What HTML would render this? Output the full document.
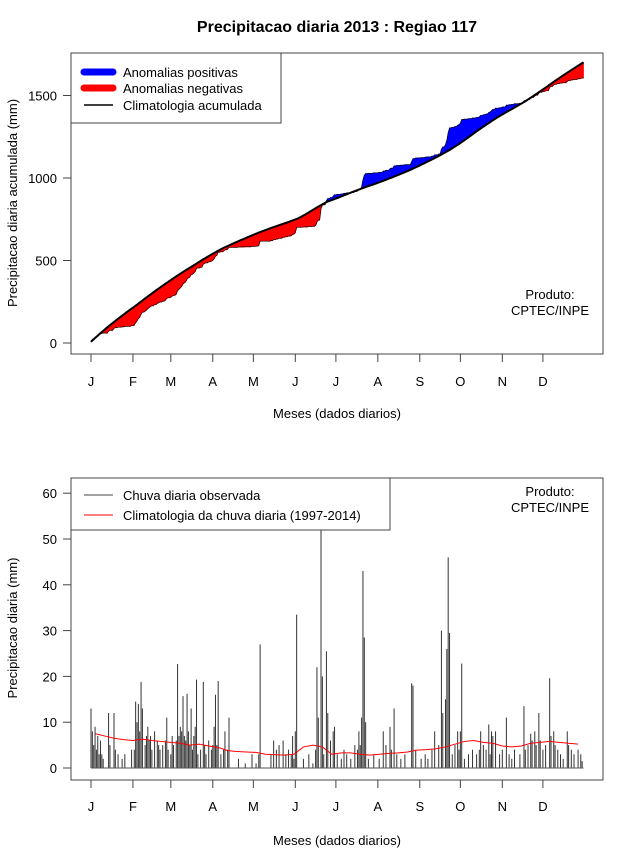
<!DOCTYPE html>
<html><head><meta charset="utf-8"><style>
html,body{margin:0;padding:0;background:#fff;}
svg{display:block;font-family:"Liberation Sans",Arial,sans-serif;}
</style></head><body>
<svg id="chart" width="640" height="850" viewBox="0 0 640 850" xmlns="http://www.w3.org/2000/svg">
<defs><clipPath id="clipb"><rect x="71" y="478" width="532" height="302"/></clipPath></defs>
<rect width="640" height="850" fill="#fff"/>
<text x="337" y="32" text-anchor="middle" font-size="16" font-weight="bold">Precipitacao diaria 2013 : Regiao 117</text>
<g id="topPanel"></g>
<g id="botPanel"></g>
</svg>
<script>
const months = ["J","F","M","A","M","J","J","A","S","O","N","D"];
const monthStartDays = [1,32,60,91,121,152,182,213,244,274,305,335];
const topYTicks = [0,500,1000,1500];
const botYTicks = [0,10,20,30,40,50,60];
// climatology daily mean (mm/day), one value per week (52 weeks)
const climWeekly = [7.5,7.0,6.5,6.2,6.0, 6.3,6.0,5.8,5.6, 5.4,5.0,5.2,4.8,4.5,
 3.8,3.6,3.5,3.4, 3.0,2.9,2.8,3.0, 4.6,5.0,4.6,3.0, 3.3,3.3,3.0,2.8,
 3.0,3.2,3.3,3.5, 3.9,4.0,4.2,4.6, 5.2,5.8,6.0,5.6,5.4, 4.8,4.6,4.8,
 5.4,5.6,5.8,5.6,5.4,5.2];
// observed rain events: day of year
const rainDays = [1,2,3,4,5,6,7,8,9,10,14,15,18,19,21,24,26,31,33,34,35,36,37,38,39,
41,42,43,44,45,46,48,50,51,52,54,56,57,58,60,61,62,
64,65,66,67,68,69,70,71,72,73,74,75,76,77,78,79,80,
82,84,85,86,88,90,91,92,93,94,95,97,99,100,102,103,110,115,120,123,125,126,
134,136,138,140,143,145,147,149,150,151,152,153,158,162,165,
167,168,169,171,172,173,175,176,178,180,181,183,186,188,190,193,196,198,199,
200,201,202,203,204,206,210,214,217,219,222,223,225,227,230,233,238,239,241,245,248,250,253,255,
258,260,261,263,264,265,266,268,270,272,273,274,275,277,280,283,286,288,289,291,293,295,296,297,
298,300,303,305,308,310,312,314,
318,321,322,324,326,327,329,330,332,333,335,337,340,341,343,344,346,348,350,353,354,356,358,361,363,364];
// observed rain amounts (mm), matching rainDays
const rainMm = [13,8,5,9,4,7,3,6,3,2,12,5,12,4,3,2,3,4,4,14.5,10,14,8,18.8,13,
5,7,9,6,7,4,8,6,5,4,5,6,11,4,3,7,5,
6,22.7,7,9,8,15.7,7,6,16.2,8,5,13,4,7,9,19.3,3,
4,18.8,5,3,6,4,5,9,16,5,19,3,4,8,4,11,2,1,3,1,3,27,
3,6,4,5,6,3,4,3,7,2,8,33.5,2,3,1,
4,22,11,70,20,3,25.5,12,6,8,9,3,2,4,3,2,5,4,8,
5,11,43,28.5,10,2,3,2,8,5,9,4,13,3,2,3,18.5,18,4,2,3,2,4,8,
5,30,12,15,26,46,29.5,3,5,8,4,8,22.8,2,3,4,3,4,8,5,4,9.5,3,8,
7,8,3,4,11,3,2,4,
3,13.5,4,5,7.5,6,8,5,12,6,4,5,19.6,7,8,5,4,3,2,8,5,4,3,4,3,1.5];

const NS="http://www.w3.org/2000/svg";
function mk(parent,tag,attrs,text){const e=document.createElementNS(NS,tag);for(const k in attrs)e.setAttribute(k,attrs[k]);if(text!==undefined)e.textContent=text;parent.appendChild(e);return e;}
const xDay = d => 91 + (d-1)*1.353;
const yTop = v => 343 - v*0.165;
const yBot = v => 768 - v*4.58;

const N=365;
const clim=[],obs=[];
for(let d=1;d<=N;d++){clim.push(climWeekly[Math.min(51,Math.floor((d-1)/7))]);obs.push(0);}
rainDays.forEach((d,i)=>{obs[d-1]+=rainMm[i];});
const cC=[],cO=[];let sa=0,sb=0;
for(let i=0;i<N;i++){sa+=clim[i];sb+=obs[i];cC.push(sa);cO.push(sb);}

// ---------- TOP PANEL ----------
const topG=document.getElementById('topPanel');
for(let i=0;i<N-1;i++){
  const d=i+1;
  const col=(cO[i]+cO[i+1]>=cC[i]+cC[i+1])?'#0000ff':'#ff0000';
  const p=mk(topG,'polygon',{points:`${xDay(d)},${yTop(cC[i])} ${xDay(d+1)},${yTop(cC[i+1])} ${xDay(d+1)},${yTop(cO[i+1])} ${xDay(d)},${yTop(cO[i])}`,
    fill:col,stroke:col,'stroke-width':0.7});
  
  
}
let po='',pc='';
for(let i=0;i<N;i++){po+=`${xDay(i+1)},${yTop(cO[i])} `;pc+=`${xDay(i+1)},${yTop(cC[i])} `;}
const ol=mk(topG,'polyline',{points:po,fill:'none',stroke:'#000','stroke-width':0.6});


const cl=mk(topG,'polyline',{points:pc,fill:'none',stroke:'#000','stroke-width':2});


mk(topG,'rect',{x:71,y:53,width:532,height:301,fill:'none',stroke:'#444','stroke-width':1});
topYTicks.forEach(v=>{
  const y=yTop(v);
  mk(topG,'line',{x1:63,x2:71,y1:y,y2:y,stroke:'#444'});
  const t=mk(topG,'text',{x:57,y:y+5,'text-anchor':'end','font-size':13},String(v));
  
  
});
months.forEach((m,i)=>{
  const x=xDay(monthStartDays[i]);
  mk(topG,'line',{x1:x,x2:x,y1:354,y2:362,stroke:'#444'});
  const t=mk(topG,'text',{x:x,y:386,'text-anchor':'middle','font-size':13},m);
  
  
});
let t1=mk(topG,'text',{x:337,y:418,'text-anchor':'middle','font-size':13},'Meses (dados diarios)');

t1=mk(topG,'text',{x:17,y:203,'text-anchor':'middle','font-size':13,transform:'rotate(-90 17 203)'},'Precipitacao diaria acumulada (mm)');

t1=mk(topG,'text',{x:550,y:299,'text-anchor':'middle','font-size':13},'Produto:');

t1=mk(topG,'text',{x:550,y:315,'text-anchor':'middle','font-size':13},'CPTEC/INPE');

const lg=mk(topG,'g',{});

mk(lg,'rect',{x:71,y:53,width:210,height:70,fill:'#fff',stroke:'#444'});
mk(lg,'line',{x1:84,x2:113,y1:72,y2:72,stroke:'#0000ff','stroke-width':7,'stroke-linecap':'round'});
mk(lg,'line',{x1:84,x2:113,y1:88,y2:88,stroke:'#ff0000','stroke-width':7,'stroke-linecap':'round'});
mk(lg,'line',{x1:84,x2:113,y1:105,y2:105,stroke:'#000','stroke-width':1.5});
[['Anomalias positivas',77],['Anomalias negativas',93],['Climatologia acumulada',110]].forEach(([s,y])=>{
  const t=mk(lg,'text',{x:123,y:y,'font-size':13},s);
  
});

// ---------- BOTTOM PANEL ----------
const botG=document.getElementById('botPanel');
const bars=mk(botG,'g',{'clip-path':'url(#clipb)'});


for(let i=0;i<N;i++){
  if(obs[i]<=0)continue;
  const x=xDay(i+1);
  const l=mk(bars,'line',{x1:x,x2:x,y1:yBot(0),y2:yBot(obs[i]),stroke:'#333','stroke-width':1});
  
  
}
mk(botG,'line',{x1:xDay(1),x2:xDay(N),y1:yBot(0),y2:yBot(0),stroke:'#555','stroke-width':1});
let pr='';
climWeekly.forEach((v,w)=>{pr+=`${xDay(w*7+4)},${yBot(v)} `;});
const rl=mk(botG,'polyline',{points:pr,fill:'none',stroke:'#ff0000','stroke-width':1});


mk(botG,'rect',{x:71,y:478,width:532,height:302,fill:'none',stroke:'#444'});
botYTicks.forEach(v=>{
  const y=yBot(v);
  mk(botG,'line',{x1:63,x2:71,y1:y,y2:y,stroke:'#444'});
  const t=mk(botG,'text',{x:57,y:y+5,'text-anchor':'end','font-size':13},String(v));
  
  
});
months.forEach((m,i)=>{
  const x=xDay(monthStartDays[i]);
  mk(botG,'line',{x1:x,x2:x,y1:780,y2:788,stroke:'#444'});
  const t=mk(botG,'text',{x:x,y:811,'text-anchor':'middle','font-size':13},m);
  
  
});
t1=mk(botG,'text',{x:337,y:845,'text-anchor':'middle','font-size':13},'Meses (dados diarios)');

t1=mk(botG,'text',{x:17,y:628,'text-anchor':'middle','font-size':13,transform:'rotate(-90 17 628)'},'Precipitacao diaria (mm)');

t1=mk(botG,'text',{x:550,y:496,'text-anchor':'middle','font-size':13},'Produto:');

t1=mk(botG,'text',{x:550,y:512,'text-anchor':'middle','font-size':13},'CPTEC/INPE');

const lg2=mk(botG,'g',{});

mk(lg2,'rect',{x:71,y:478,width:319,height:52,fill:'#fff',stroke:'#444'});
mk(lg2,'line',{x1:84,x2:113,y1:495,y2:495,stroke:'#444','stroke-width':1});
mk(lg2,'line',{x1:84,x2:113,y1:515,y2:515,stroke:'#ff0000','stroke-width':1});
[['Chuva diaria observada',500],['Climatologia da chuva diaria (1997-2014)',520]].forEach(([s,y])=>{
  const t=mk(lg2,'text',{x:123,y:y,'font-size':13},s);
  
});
</script>
</body></html>
